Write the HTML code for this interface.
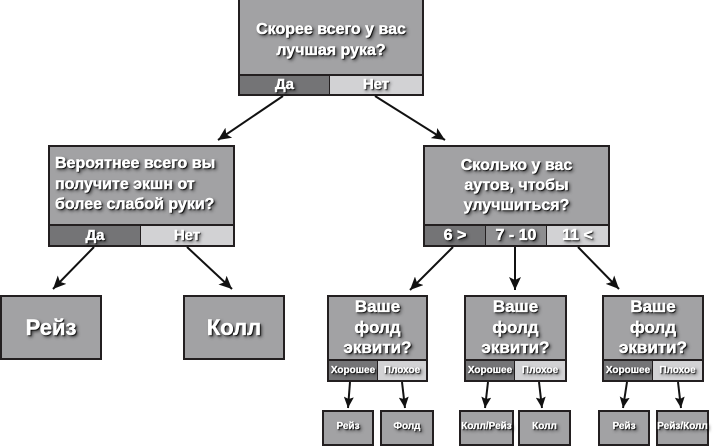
<!DOCTYPE html>
<html><head><meta charset="utf-8">
<style>
html,body{margin:0;padding:0;background:#fff;}
body{width:715px;height:444px;position:relative;overflow:hidden;font-family:"Liberation Sans","DejaVu Sans",sans-serif;font-weight:700;color:#fff;}
.b{position:absolute;box-sizing:border-box;border:2px solid #231f20;background:#a2a2a4;}
.t,.r{font-weight:700;-webkit-text-stroke:0.5px #fff;text-shadow:1px 1px 1px #000,2px 2px 3px rgba(0,0,0,.7);white-space:nowrap;}
.t{position:absolute;left:0;right:0;text-align:center;}
.r{position:absolute;box-sizing:border-box;text-align:center;}
.dk{background:#747476;}
.lt{background:#d2d2d4;}
svg{position:absolute;left:0;top:0;}
</style></head><body>

<!-- top box -->
<div class="b" style="left:238px;top:-2px;width:186px;height:98px;">
  <div class="t" style="top:19px;font-size:16px;line-height:21px;">Скорее всего у вас<br>лучшая рука?</div>
  <div class="r dk" style="left:0;top:74px;width:90px;height:20px;border-top:2px solid #231f20;border-right:1px solid #231f20;font-size:15px;line-height:18px;">Да</div>
  <div class="r lt" style="left:90px;top:74px;width:92px;height:20px;border-top:2px solid #231f20;font-size:15px;line-height:18px;">Нет</div>
</div>

<!-- left second -->
<div class="b" style="left:48px;top:145px;width:187px;height:102px;">
  <div class="t" style="top:7px;left:5px;text-align:left;font-size:16px;line-height:20.5px;">Вероятнее всего вы<br>получите экшн от<br>более слабой руки?</div>
  <div class="r dk" style="left:0;top:77px;width:91px;height:21px;border-top:2px solid #231f20;border-right:1px solid #231f20;font-size:15px;line-height:19px;">Да</div>
  <div class="r lt" style="left:91px;top:77px;width:92px;height:21px;border-top:2px solid #231f20;font-size:15px;line-height:19px;">Нет</div>
</div>

<!-- right second -->
<div class="b" style="left:423px;top:145px;width:187px;height:102px;">
  <div class="t" style="top:9px;font-size:16px;line-height:20px;">Сколько у вас<br>аутов, чтобы<br>улучшиться?</div>
  <div class="r dk" style="left:0;top:77px;width:61px;height:21px;border-top:2px solid #231f20;border-right:1px solid #231f20;font-size:16px;line-height:19px;">6 &gt;</div>
  <div class="r" style="left:61px;top:77px;width:61px;height:21px;border-top:2px solid #231f20;border-right:1px solid #231f20;background:#8e8e90;font-size:16px;line-height:19px;">7 - 10</div>
  <div class="r lt" style="left:122px;top:77px;width:61px;height:21px;border-top:2px solid #231f20;font-size:16px;line-height:19px;">11 &lt;</div>
</div>

<!-- Рейз / Колл big -->
<div class="b" style="left:0;top:295px;width:102px;height:65px;">
  <div class="t" style="top:18px;font-size:22px;line-height:26px;">Рейз</div>
</div>
<div class="b" style="left:183px;top:295px;width:102px;height:65px;">
  <div class="t" style="top:18px;font-size:22px;line-height:26px;">Колл</div>
</div>

<!-- small question boxes -->
<div class="b" style="left:327px;top:295px;width:101px;height:87px;">
  <div class="t" style="top:0px;font-size:17px;line-height:20.5px;">Ваше<br>фолд<br>эквити?</div>
  <div class="r dk" style="left:0;top:62px;width:49px;height:21px;border-top:2px solid #231f20;border-right:1px solid #231f20;font-size:10px;line-height:19px;-webkit-text-stroke:0.3px #fff;">Хорошее</div>
  <div class="r lt" style="left:49px;top:62px;width:48px;height:21px;border-top:2px solid #231f20;font-size:10px;line-height:19px;-webkit-text-stroke:0.3px #fff;">Плохое</div>
</div>
<div class="b" style="left:464px;top:295px;width:103px;height:87px;">
  <div class="t" style="top:0px;font-size:17px;line-height:20.5px;">Ваше<br>фолд<br>эквити?</div>
  <div class="r dk" style="left:0;top:62px;width:49px;height:21px;border-top:2px solid #231f20;border-right:1px solid #231f20;font-size:10px;line-height:19px;-webkit-text-stroke:0.3px #fff;">Хорошее</div>
  <div class="r lt" style="left:49px;top:62px;width:50px;height:21px;border-top:2px solid #231f20;font-size:10px;line-height:19px;-webkit-text-stroke:0.3px #fff;">Плохое</div>
</div>
<div class="b" style="left:602px;top:295px;width:102px;height:87px;">
  <div class="t" style="top:0px;font-size:17px;line-height:20.5px;">Ваше<br>фолд<br>эквити?</div>
  <div class="r dk" style="left:0;top:62px;width:49px;height:21px;border-top:2px solid #231f20;border-right:1px solid #231f20;font-size:10px;line-height:19px;-webkit-text-stroke:0.3px #fff;">Хорошее</div>
  <div class="r lt" style="left:49px;top:62px;width:49px;height:21px;border-top:2px solid #231f20;font-size:10px;line-height:19px;-webkit-text-stroke:0.3px #fff;">Плохое</div>
</div>

<!-- bottom small boxes -->
<div class="b" style="left:322px;top:410px;width:52px;height:36px;"><div class="t" style="top:7px;font-size:10px;line-height:16px;-webkit-text-stroke:0.3px #fff;">Рейз</div></div>
<div class="b" style="left:380px;top:410px;width:54px;height:36px;"><div class="t" style="top:7px;font-size:10px;line-height:16px;-webkit-text-stroke:0.3px #fff;">Фолд</div></div>
<div class="b" style="left:459px;top:410px;width:55px;height:36px;"><div class="t" style="top:7px;left:-6px;right:-6px;font-size:10px;line-height:16px;-webkit-text-stroke:0.3px #fff;">Колл/Рейз</div></div>
<div class="b" style="left:518px;top:410px;width:53px;height:36px;"><div class="t" style="top:7px;font-size:10px;line-height:16px;-webkit-text-stroke:0.3px #fff;">Колл</div></div>
<div class="b" style="left:598px;top:410px;width:52px;height:36px;"><div class="t" style="top:7px;font-size:10px;line-height:16px;-webkit-text-stroke:0.3px #fff;">Рейз</div></div>
<div class="b" style="left:656px;top:410px;width:53px;height:36px;"><div class="t" style="top:7px;left:-6px;right:-6px;font-size:10px;line-height:16px;-webkit-text-stroke:0.3px #fff;">Рейз/Колл</div></div>

<svg width="715" height="444" viewBox="0 0 715 444">
<defs>
<marker id="a" markerUnits="userSpaceOnUse" markerWidth="14" markerHeight="12" refX="13" refY="6" orient="auto">
<path d="M0,0 L13,6 L0,12 L3,6 z" fill="#111"/>
</marker>
<marker id="s" markerUnits="userSpaceOnUse" markerWidth="12" markerHeight="10" refX="11" refY="5" orient="auto">
<path d="M0,0 L11,5 L0,10 L2,5 z" fill="#111"/>
</marker>
</defs>
<g stroke="#111" stroke-width="2" fill="none">
<line x1="283" y1="96" x2="218" y2="140" marker-end="url(#a)"/>
<line x1="375" y1="96" x2="445" y2="140" marker-end="url(#a)"/>
<line x1="94" y1="247" x2="53" y2="289" marker-end="url(#a)"/>
<line x1="187" y1="247" x2="232" y2="289" marker-end="url(#a)"/>
<line x1="453" y1="247" x2="410" y2="290" marker-end="url(#a)"/>
<line x1="515" y1="247" x2="515" y2="290" marker-end="url(#a)"/>
<line x1="578" y1="247" x2="619" y2="289" marker-end="url(#a)"/>
<line x1="350" y1="382" x2="348" y2="408" marker-end="url(#s)"/>
<line x1="402" y1="382" x2="405" y2="408" marker-end="url(#s)"/>
<line x1="488" y1="382" x2="485" y2="408" marker-end="url(#s)"/>
<line x1="539" y1="382" x2="542" y2="408" marker-end="url(#s)"/>
<line x1="627" y1="382" x2="623" y2="408" marker-end="url(#s)"/>
<line x1="678" y1="382" x2="681" y2="408" marker-end="url(#s)"/>
</g>
</svg>
</body></html>
